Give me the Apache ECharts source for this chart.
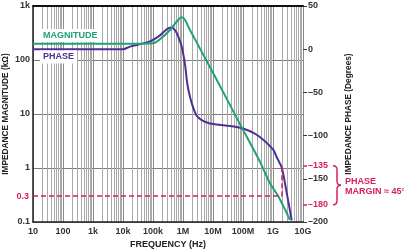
<!DOCTYPE html>
<html>
<head>
<meta charset="utf-8">
<script src="https://cdn.jsdelivr.net/npm/echarts@6.0.0/dist/echarts.min.js"></script>
<style>
html, body { margin: 0; padding: 0; background: #fff; }
#chart { width: 404px; height: 252px; }
</style>
</head>
<body>
<div id="chart"></div>
<script>
// tick labels
var freqLabels = ['10', '100', '1k', '10k', '100k', '1M', '10M', '100M', '1G', '10G']
var magLabels = ['0.1', '1', '10', '100', '1k']
var marginDegrees = [-135, -180]

// impedance magnitude (kOhm) vs frequency (Hz)
var magFreq = [10, 1e4, 1e5, 1.71e5, 3.69e5, 6.17e5, 9.06e5, 1.17e6, 1.71e6, 1.02e7, 7.94e7, 3.69e8, 7.94e8, 1.5e9, 3.69e9]
var magValue = [200, 200, 205, 242, 359, 513, 617, 550, 359, 57, 6.5, 1.3, 0.52, 0.3, 0.109]

// impedance phase (degrees) vs frequency (Hz)
var phaseFreq = [10, 1e4, 1.71e4, 7.94e4, 1.71e5, 2.86e5, 3.89e5, 5.41e5, 6.97e5, 9.06e5, 1.17e6, 1.39e6, 1.71e6, 2.2e6, 2.86e6, 4.2e6, 7.94e6, 2.2e7, 7.94e7, 2.86e8, 1e9, 1.33e9, 1.95e9, 2.86e9, 4.2e9]
var phaseValue = [0, 0, 3, 9, 16, 23, 25, 22, 14.5, 3, -18, -40, -55, -68, -77, -82, -86, -88, -91, -99, -116, -125, -137, -166, -198]

// phase margin marker
var marginLevel = 0.3
var marginFreq = 1.95e9

var GREEN = '#1fa276'
var PURPLE = '#4f2f96'
var RED = '#d61f5c'
var FONT = 'Liberation Sans'

function pairs (xs, ys) {
  var out = []
  for (var i = 0; i < xs.length; i++) {
    out.push([xs[i], ys[i]])
  }
  return out
}

function dash (v) {
  return String(v).replace('-', '\u2013')
}

var labelStyle = { fontFamily: FONT, fontWeight: 'bold', fontSize: 9, color: '#333' }
var nameStyle = { fontFamily: FONT, fontWeight: 'bold', fontSize: 8.3, color: '#222' }

var chart = echarts.init(document.getElementById('chart'))

var option = {
  animation: false,
  grid: { left: 33, right: 101, top: 6, bottom: 30, outerBoundsMode: 'none', containLabel: false },
  xAxis: [
    {
      type: 'log',
      logBase: 10,
      min: 10,
      max: 1e10,
      splitNumber: 10,
      name: 'FREQUENCY (Hz)',
      nameLocation: 'middle',
      nameGap: 18,
      nameMoveOverlap: false,
      nameTextStyle: Object.assign({}, nameStyle, { fontSize: 9 }),
      axisLine: { onZero: false, lineStyle: { color: '#222', width: 1.5 } },
      axisTick: { show: false },
      axisLabel: Object.assign({
        margin: 5,
        interval: 0,
        formatter: function (v) { return freqLabels[Math.round(Math.log10(v)) - 1] }
      }, labelStyle),
      splitLine: { show: true, lineStyle: { color: '#8c8c8c', width: 1 } },
      minorTick: { show: false, splitNumber: 9 },
      minorSplitLine: { show: true, lineStyle: { color: '#a9a9a9', width: 1 } }
    },
    {
      type: 'log',
      logBase: 10,
      min: 10,
      max: 1e10,
      position: 'top',
      axisLine: { onZero: false, lineStyle: { color: '#111', width: 2 } },
      axisTick: { show: false },
      axisLabel: { show: false },
      splitLine: { show: false }
    }
  ],
  yAxis: [
    {
      type: 'log',
      logBase: 10,
      min: 0.1,
      max: 1000,
      name: 'IMPEDANCE MAGNITUDE (k\u03a9)',
      nameLocation: 'middle',
      nameRotate: 90,
      nameGap: 23,
      nameMoveOverlap: false,
      nameTextStyle: nameStyle,
      axisLine: { show: true, onZero: false, lineStyle: { color: '#222', width: 1.5 } },
      axisTick: { show: false },
      axisLabel: Object.assign({
        margin: 3,
        formatter: function (v) { return magLabels[Math.round(Math.log10(v)) + 1] }
      }, labelStyle),
      splitLine: { show: true, lineStyle: { color: '#7d7d7d', width: 1 } }
    },
    {
      type: 'value',
      min: -200,
      max: 50,
      interval: 50,
      position: 'right',
      name: 'IMPEDANCE PHASE (Degrees)',
      nameLocation: 'middle',
      nameRotate: 90,
      nameGap: 42,
      nameMoveOverlap: false,
      nameTextStyle: nameStyle,
      axisLine: { show: true, onZero: false, lineStyle: { color: '#888', width: 1 } },
      axisTick: { show: true, length: 4, lineStyle: { color: '#333' } },
      axisLabel: Object.assign({ margin: 5, formatter: dash }, labelStyle),
      splitLine: { show: false }
    },
    {
      type: 'value',
      min: -200,
      max: 50,
      position: 'right',
      axisLine: { show: false, onZero: false },
      axisTick: { show: true, length: 4, customValues: marginDegrees, lineStyle: { color: RED, width: 1.5 } },
      axisLabel: Object.assign({}, labelStyle, { margin: 5, color: RED, customValues: marginDegrees, formatter: dash }),
      splitLine: { show: false }
    }
  ],
  series: [
    {
      name: 'PHASE',
      type: 'line',
      xAxisIndex: 0,
      yAxisIndex: 1,
      data: pairs(phaseFreq, phaseValue),
      smooth: 0.3,
      symbol: 'none',
      lineStyle: { color: PURPLE, width: 2 }
    },
    {
      name: 'MAGNITUDE',
      type: 'line',
      xAxisIndex: 0,
      yAxisIndex: 0,
      data: pairs(magFreq, magValue),
      smooth: 0.3,
      symbol: 'none',
      lineStyle: { color: GREEN, width: 2 },
      markLine: {
        silent: true,
        symbol: 'none',
        animation: false,
        label: { show: false },
        lineStyle: { color: RED, type: [5, 3], width: 1.5 },
        data: [
          [
            {
              coord: [10, marginLevel],
              label: Object.assign({}, labelStyle, { show: true, position: 'start', distance: 4, color: RED, formatter: '0.3' })
            },
            { coord: [marginFreq, marginLevel] }
          ],
          [
            { coord: [marginFreq, marginLevel] },
            { coord: [marginFreq, 1.1] }
          ]
        ]
      }
    }
  ]
}

chart.setOption(option)

// legend labels and the phase margin brace
var yTop = chart.convertToPixel({ yAxisIndex: 1 }, marginDegrees[0])
var yBot = chart.convertToPixel({ yAxisIndex: 1 }, marginDegrees[1])
var yMid = (yTop + yBot) / 2
var bx = 333
var braceStyle = { fill: null, stroke: RED, lineWidth: 1.5 }

function curve (x1, y1, cx, cy, x2, y2) {
  return { type: 'bezierCurve', z: 10, shape: { x1: x1, y1: y1, cpx1: cx, cpy1: cy, x2: x2, y2: y2 }, style: braceStyle }
}
function seg (x1, y1, x2, y2) {
  return { type: 'line', z: 10, shape: { x1: x1, y1: y1, x2: x2, y2: y2 }, style: braceStyle }
}

chart.setOption({
  graphic: [
    {
      type: 'text', x: 40, y: 35.5, z: 10,
      style: { text: 'MAGNITUDE', fill: GREEN, font: 'bold 9px "Liberation Sans"', verticalAlign: 'middle', backgroundColor: '#fff', padding: [2, 3, 2, 3] }
    },
    {
      type: 'text', x: 40, y: 57, z: 10,
      style: { text: 'PHASE', fill: PURPLE, font: 'bold 9px "Liberation Sans"', verticalAlign: 'middle', backgroundColor: '#fff', padding: [2, 3, 2, 3] }
    },
    curve(bx, yTop, bx + 4, yTop, bx + 4, yTop + 4),
    seg(bx + 4, yTop + 4, bx + 4, yMid - 4),
    curve(bx + 4, yMid - 4, bx + 4, yMid, bx + 8, yMid),
    curve(bx + 8, yMid, bx + 4, yMid, bx + 4, yMid + 4),
    seg(bx + 4, yMid + 4, bx + 4, yBot - 4),
    curve(bx + 4, yBot - 4, bx + 4, yBot, bx, yBot),
    {
      type: 'text', x: 345, y: yMid + 1, z: 10,
      style: { text: 'PHASE\nMARGIN \u2248 45\u00b0', fill: RED, font: 'bold 9px "Liberation Sans"', lineHeight: 10, verticalAlign: 'middle' }
    }
  ]
})
</script>
</body>
</html>
